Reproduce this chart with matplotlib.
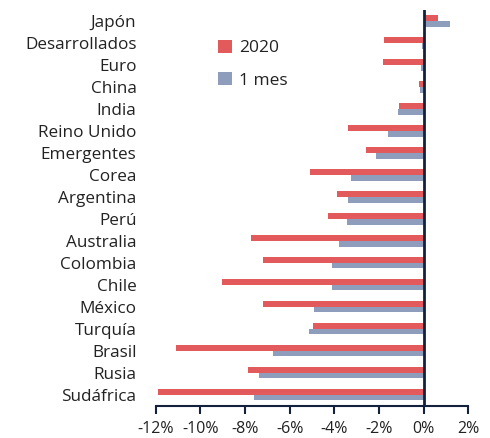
import matplotlib.pyplot as plt
import numpy as np

plt.rcParams['font.family'] = ['Open Sans', 'DejaVu Sans']

# data (% change)
countries = ["Japón", "Desarrollados", "Euro", "China", "India", "Reino Unido",
             "Emergentes", "Corea", "Argentina", "Perú", "Australia", "Colombia",
             "Chile", "México", "Turquía", "Brasil", "Rusia", "Sudáfrica"]
val_2020 = [0.65, -1.76, -1.81, -0.22, -1.1, -3.39, -2.6, -5.1, -3.9, -4.27,
            -7.75, -7.2, -9.05, -7.2, -4.97, -11.09, -7.88, -11.88]
val_1mes = [1.18, -0.08, -0.12, -0.17, -1.17, -1.58, -2.14, -3.26, -3.39, -3.43,
            -3.79, -4.09, -4.12, -4.93, -5.15, -6.73, -7.37, -7.61]
xticks = [-12, -10, -8, -6, -4, -2, 0, 2]
xtick_labels = ["-12%", "-10%", "-8%", "-6%", "-4%", "-2%", "0%", "2%"]

red = "#e35a5c"
blue = "#8f9dbd"
navy = "#14213d"
text_col = "#222222"

fig = plt.figure(figsize=(4.9, 4.38), dpi=100)
ax = fig.add_axes([0.318, 0.074, 0.638, 0.903])

y = np.arange(len(countries))
h = 0.26
ax.barh(y - h / 2, val_2020, height=h, color=red, label="2020")
ax.barh(y + h / 2, val_1mes, height=h, color=blue, label="1 mes")
ax.axvline(0, color=navy, lw=2)

ax.set_xlim(-12, 2)
ax.set_ylim(len(countries) - 0.5, -0.5)
ax.set_yticks(y)
ax.set_yticklabels(countries, fontsize=12.3, color=text_col)
ax.tick_params(axis='y', length=0, pad=14)
ax.set_xticks(xticks)
ax.set_xticklabels(xtick_labels, fontsize=11.5, color=text_col)
ax.tick_params(axis='x', length=6, width=1.5, color=navy, direction='out', pad=5)

for s in ["top", "right", "left"]:
    ax.spines[s].set_visible(False)
ax.spines["bottom"].set_color(navy)
ax.spines["bottom"].set_linewidth(1.5)

ax.legend(loc="upper left", bbox_to_anchor=(0.15, 0.965), frameon=False,
          fontsize=12.5, handlelength=0.8, handleheight=0.8, labelspacing=0.9,
          handletextpad=0.4, labelcolor=text_col)

plt.savefig("out.png", dpi=100)
